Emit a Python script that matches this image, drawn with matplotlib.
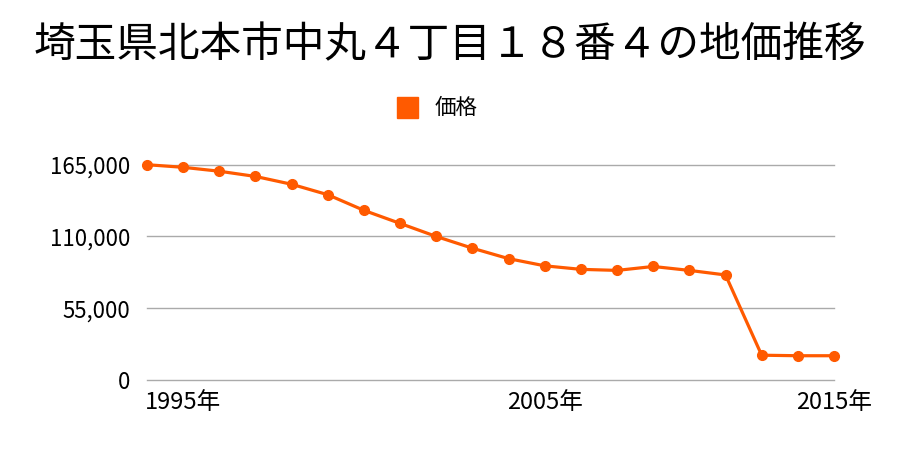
import matplotlib
matplotlib.use("Agg")
import matplotlib.pyplot as plt
import numpy as np
from matplotlib.patches import Rectangle

plt.rcParams['font.family'] = ['Noto Sans CJK JP', 'DejaVu Sans']

title = "埼玉県北本市中丸４丁目１８番４の地価推移"
series_name = "価格"
# 20 equally spaced category points; labelled at indices 1, 11, 19
values = [165000, 163000, 160000, 156000, 150000, 142000, 130000, 120000,
          110000, 101000, 93000, 87500, 84800, 84000, 87000, 84000, 80500,
          19000, 18600, 18600]
tick_index = [1, 11, 19]
tick_labels = ["1995年", "2005年", "2015年"]
y_ticks = [0, 55000, 110000, 165000]
y_tick_labels = ["0", "55,000", "110,000", "165,000"]

color = "#FF5A00"

fig = plt.figure(figsize=(9, 4.5), dpi=100)
ax = fig.add_axes([147/900, 1-380/450, (834-147)/900, (380-164.7)/450])
x = np.arange(len(values))
ax.plot(x, values, color=color, lw=2.3, marker='o', ms=7, clip_on=False, zorder=3)
ax.set_xlim(0, len(values)-1)
ax.set_ylim(0, 165000)
ax.set_yticks(y_ticks)
ax.set_yticklabels(y_tick_labels, fontsize=16)
ax.set_xticks(tick_index)
ax.set_xticklabels(tick_labels, fontsize=17)
ax.tick_params(length=0)
ax.tick_params(axis='x', pad=8)
ax.tick_params(axis='y', pad=12)
ax.grid(axis='y', color='#aaaaaa', lw=1)
for gl in ax.get_ygridlines():
    gl.set_clip_on(False)
ax.set_axisbelow(True)
for s in ax.spines.values():
    s.set_visible(False)

fig.text(0.5, 1-46/450, title, ha='center', va='center', fontsize=30)
fig.patches.append(Rectangle((397/900, 1-118/450), 21/900, 21/450,
                             transform=fig.transFigure, color=color))
fig.text(435/900, 1-108/450, series_name, ha='left', va='center', fontsize=15.5)

fig.savefig("out.png", dpi=100)
